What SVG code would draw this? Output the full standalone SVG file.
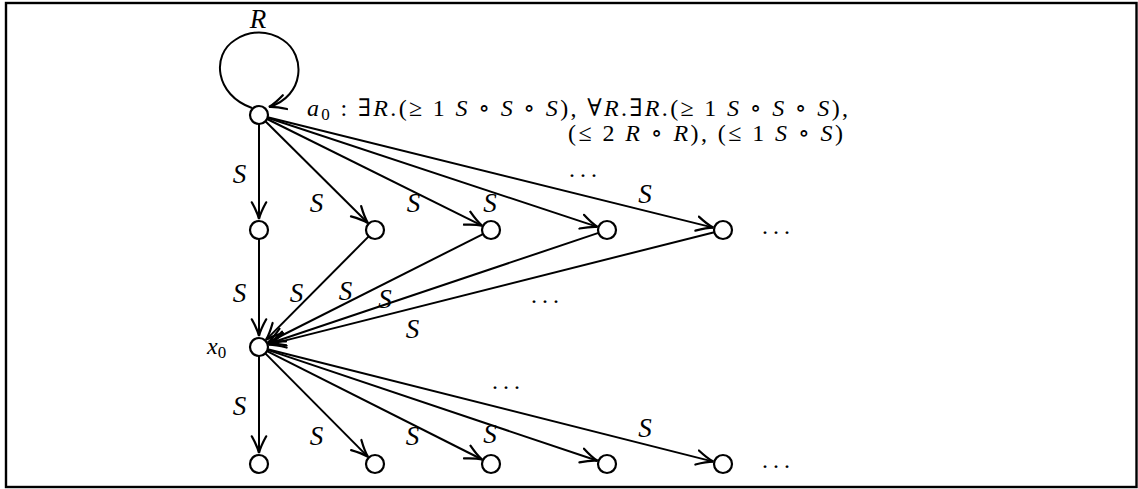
<svg xmlns="http://www.w3.org/2000/svg" width="1138" height="489" viewBox="0 0 1138 489">
<style>
text{font-family:"Liberation Serif","DejaVu Serif",serif;font-size:24px;fill:#000}
.i{font-style:italic}
.lab{font-style:italic;text-anchor:middle;font-size:27px}
.node{fill:#fff;stroke:#000;stroke-width:2.2}
.e{fill:none;stroke:#000;stroke-width:2;marker-end:url(#ah)}
.sub{font-size:17px}
</style>
<defs>
<marker id="ah" markerUnits="userSpaceOnUse" markerWidth="20" markerHeight="20" viewBox="-16 -8 18 16" refX="0" refY="0" orient="auto">
<path d="M -15 -6.5 Q -6 -1.5 0 0 Q -6 1.5 -15 6.5" fill="none" stroke="#000" stroke-width="2" stroke-linecap="round"/>
</marker>
</defs>
<rect x="6" y="3" width="1130.5" height="484" fill="none" stroke="#000" stroke-width="2.4"/>
<g id="connectors">
<path class="e" d="M 252 108 C 215 95, 211 55, 235 40 C 250 30, 268 30, 283 40 C 306 55, 305 96, 269 107"/>
<line class="e" x1="259" y1="124" x2="259" y2="219"/>
<line class="e" x1="265.4" y1="121.3" x2="367.9" y2="223"/>
<line class="e" x1="267.1" y1="119" x2="482" y2="225.6"/>
<line class="e" x1="267.5" y1="117.8" x2="597.5" y2="226.9"/>
<line class="e" x1="267.7" y1="117.2" x2="713.3" y2="227.6"/>
<line class="e" x1="259" y1="239" x2="259" y2="336"/>
<line class="e" x1="368.7" y1="236.4" x2="266" y2="339.9"/>
<line class="e" x1="483" y1="234.1" x2="267.9" y2="342.5"/>
<line class="e" x1="598.5" y1="232.9" x2="268.5" y2="343.8"/>
<line class="e" x1="714.3" y1="232.2" x2="268.7" y2="344.6"/>
<line class="e" x1="259" y1="356" x2="259" y2="453"/>
<line class="e" x1="265.3" y1="353.4" x2="368" y2="456.9"/>
<line class="e" x1="267" y1="351.1" x2="482.1" y2="459.5"/>
<line class="e" x1="267.5" y1="349.9" x2="597.5" y2="460.8"/>
<line class="e" x1="267.7" y1="349.2" x2="713.3" y2="461.6"/>
</g>
<g id="edge-labels">
<text class="lab" x="258" y="28">R</text>
<text class="lab" x="239.5" y="183">S</text>
<text class="lab" x="316.5" y="212">S</text>
<text class="lab" x="413.5" y="212">S</text>
<text class="lab" x="490" y="212">S</text>
<text class="lab" x="645" y="203">S</text>
<text class="lab" x="239.5" y="302">S</text>
<text class="lab" x="296.5" y="302">S</text>
<text class="lab" x="345.5" y="300">S</text>
<text class="lab" x="385" y="308">S</text>
<text class="lab" x="412.5" y="338">S</text>
<text class="lab" x="239.5" y="415">S</text>
<text class="lab" x="316.5" y="445">S</text>
<text class="lab" x="412.5" y="445">S</text>
<text class="lab" x="490" y="443">S</text>
<text class="lab" x="645" y="437">S</text>
<text x="569" y="177" textLength="28" lengthAdjust="spacing">. . .</text>
<text x="531" y="303" textLength="28" lengthAdjust="spacing">. . .</text>
<text x="492" y="389" textLength="28" lengthAdjust="spacing">. . .</text>
<text x="762" y="234" textLength="28" lengthAdjust="spacing">. . .</text>
<text x="762" y="468" textLength="28" lengthAdjust="spacing">. . .</text>
</g>
<g id="a0">
<circle class="node" cx="259" cy="115" r="9"/>
<text x="307" y="116" textLength="541" lengthAdjust="spacing"><tspan class="i">a</tspan><tspan class="sub" dy="4">0</tspan><tspan dy="-4"> : ∃</tspan><tspan class="i">R</tspan>.(≥ 1 <tspan class="i">S</tspan> ∘ <tspan class="i">S</tspan> ∘ <tspan class="i">S</tspan>), ∀<tspan class="i">R</tspan>.∃<tspan class="i">R</tspan>.(≥ 1 <tspan class="i">S</tspan> ∘ <tspan class="i">S</tspan> ∘ <tspan class="i">S</tspan>),</text>
<text x="568" y="141" textLength="275" lengthAdjust="spacing">(≤ 2 <tspan class="i">R</tspan> ∘ <tspan class="i">R</tspan>), (≤ 1 <tspan class="i">S</tspan> ∘ <tspan class="i">S</tspan>)</text>
</g>
<g id="n1"><circle class="node" cx="259" cy="230" r="9"/></g>
<g id="n2"><circle class="node" cx="375" cy="230" r="9"/></g>
<g id="n3"><circle class="node" cx="491" cy="230" r="9"/></g>
<g id="n4"><circle class="node" cx="607" cy="230" r="9"/></g>
<g id="n5"><circle class="node" cx="723" cy="230" r="9"/></g>
<g id="x0">
<circle class="node" cx="259" cy="347" r="9"/>
<text x="207" y="354"><tspan class="i">x</tspan><tspan class="sub" dy="4">0</tspan></text>
</g>
<g id="b1"><circle class="node" cx="259" cy="464" r="9"/></g>
<g id="b2"><circle class="node" cx="375" cy="464" r="9"/></g>
<g id="b3"><circle class="node" cx="491" cy="464" r="9"/></g>
<g id="b4"><circle class="node" cx="607" cy="464" r="9"/></g>
<g id="b5"><circle class="node" cx="723" cy="464" r="9"/></g>
</svg>
